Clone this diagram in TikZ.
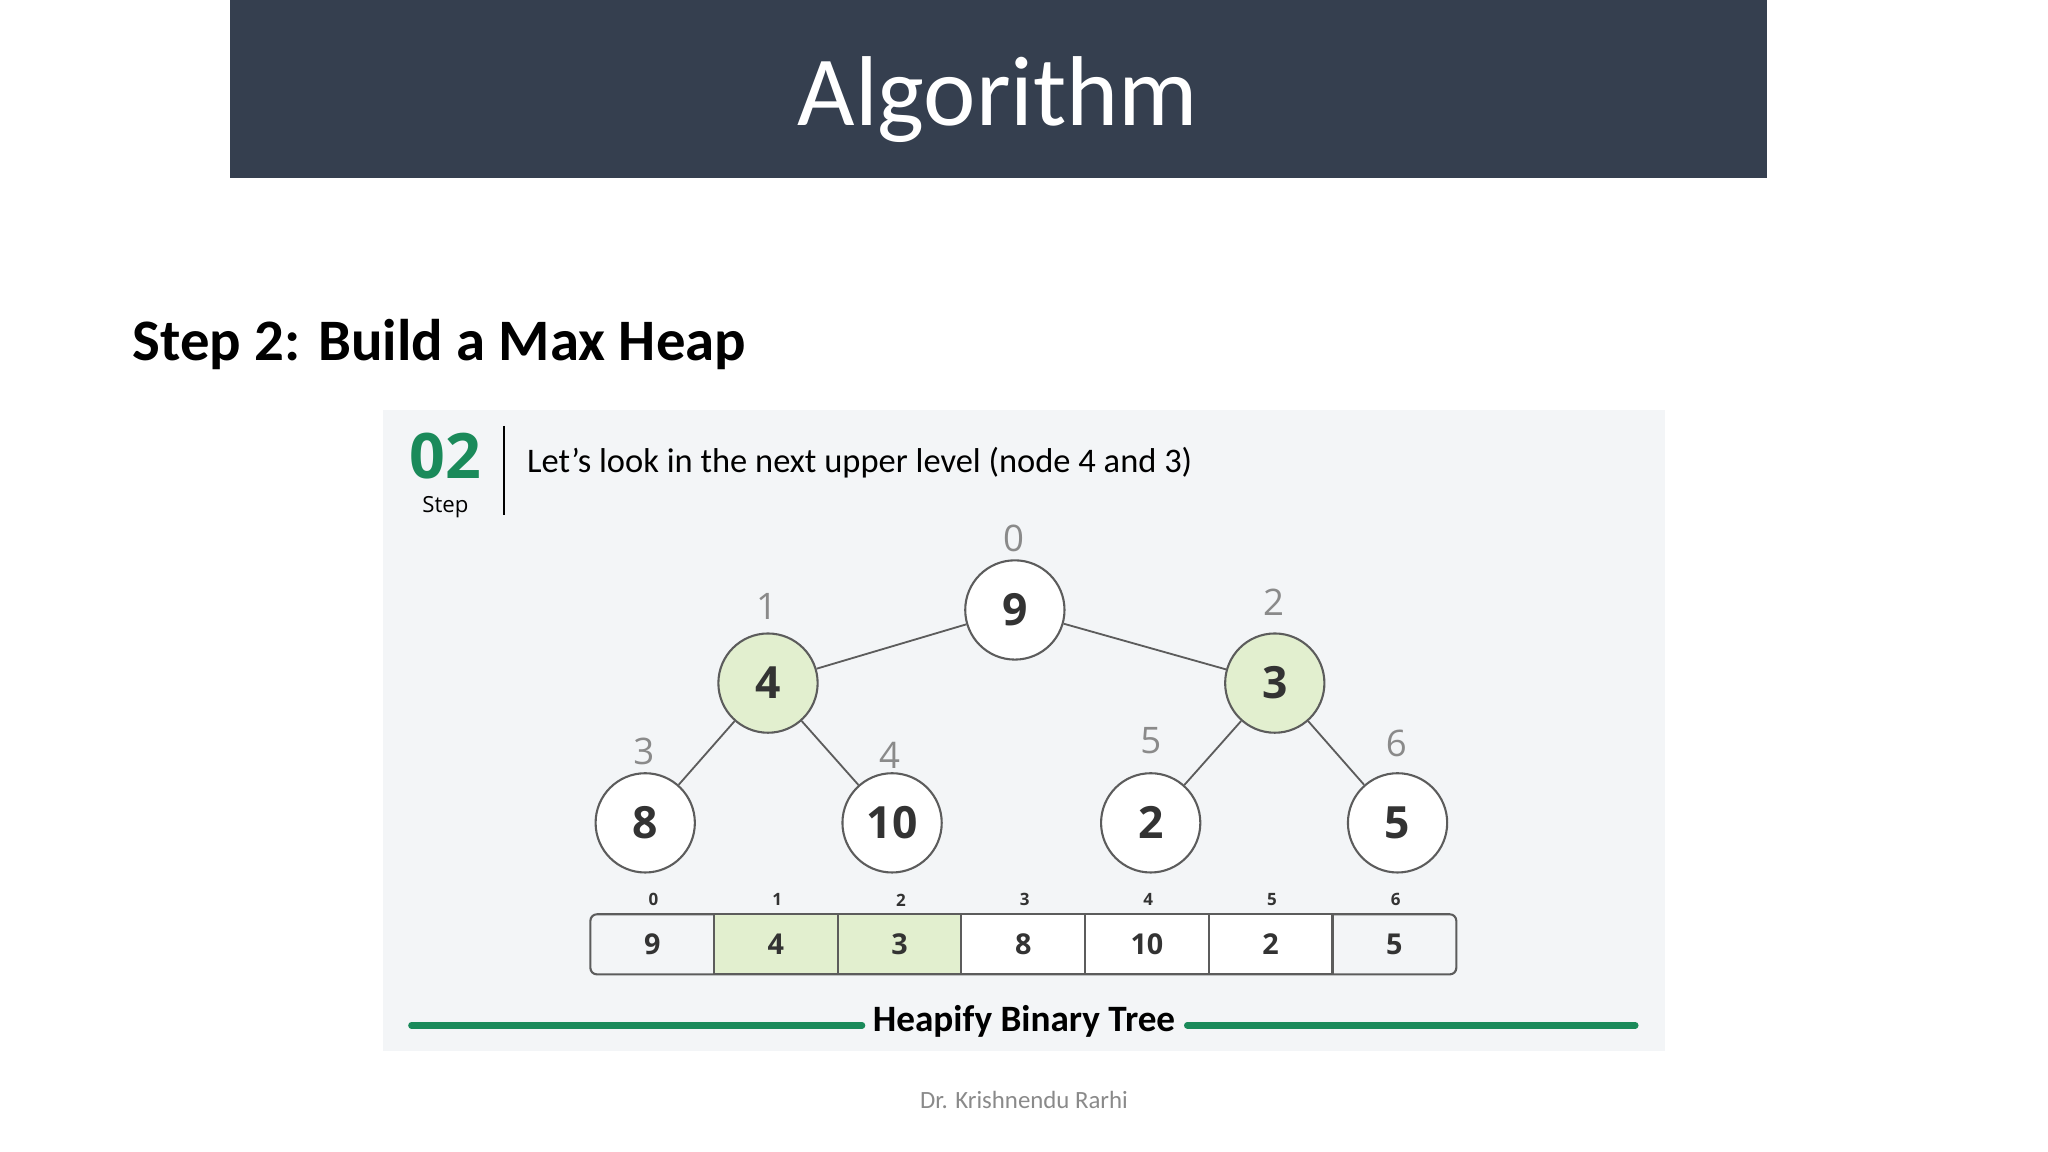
\documentclass[tikz,border=0pt]{standalone}
\usepackage{fontspec}
\setmainfont{Carlito}
\newfontfamily\osans{Open Sans}
\definecolor{bar}{HTML}{353F4F}
\definecolor{panel}{HTML}{F3F5F7}
\definecolor{lg}{HTML}{E2EFCF}
\definecolor{gg}{HTML}{1A8A5A}
\definecolor{dk}{HTML}{333333}
\definecolor{gy}{HTML}{8A8A8A}
\newcommand{\fs}[1]{\fontsize{#1}{#1}\selectfont}
\begin{document}
\begin{tikzpicture}[x=1pt,y=-1pt,
  hn/.style={circle,draw=dk!80,line width=1.6pt,minimum size=76pt,inner sep=0pt,fill=white,font=\osans\bfseries\fs{34}\color{dk}},
  hl/.style={hn,fill=lg},
  ix/.style={font=\osans\fs{28}\color{gy}},
  cell/.style={draw=dk!80,line width=1.6pt,minimum width=94.7pt,minimum height=46pt,inner sep=0pt,font=\osans\bfseries\fs{22}\color{dk}},
  ci/.style={font=\osans\bfseries\fs{13}\color{dk}},
  edge/.style={draw=dk!80,line width=1.4pt}]
\useasboundingbox (0,0) rectangle (1568,882);
\fill[white] (0,0) rectangle (1568,882);
\fill[bar] (176,0) rectangle (1353,136);
\node[text=white,font=\fs{76}] (title) at (764,76) {Algorithm};
\node[anchor=west,font=\bfseries\fs{45}] (step) at (98,264) {Step 2: Build a Max Heap};
\fill[panel] (293,314) rectangle (1275,805);
\node[font=\osans\bfseries\fs{48}\color{gg}] (n02) at (341,349) {02};
\node[font=\osans\fs{17}] (st) at (341,388) {Step};
\draw[line width=1.5pt] (386,326) -- (386,394);
\node[anchor=west,font=\fs{26.4}] (hdr) at (400,354) {Let\char39 s look in the next upper level (node 4 and 3)};
\node[hn] (a) at (777,467) {9};
\node[hl] (b) at (588,523) {4};
\node[hl] (c) at (976,523) {3};
\node[hn] (d) at (494,630) {8};
\node[hn] (e) at (683,630) {10};
\node[hn] (f) at (881,630) {2};
\node[hn] (g) at (1070,630) {5};
\draw[edge] (a)--(b); \draw[edge] (a)--(c);
\draw[edge] (b)--(d); \draw[edge] (b)--(e);
\draw[edge] (c)--(f); \draw[edge] (c)--(g);
\node[ix] (i0) at (776,412) {0};
\node[ix] (i1) at (587,464) {1};
\node[ix] (i2) at (975,461) {2};
\node[ix] (i3) at (493,575) {3};
\node[ix] (i4) at (681,578) {4};
\node[ix] (i5) at (881,567) {5};
\node[ix] (i6) at (1069,569) {6};
\draw[dk!80,line width=1.6pt,rounded corners=5pt] (452,700) rectangle (1115,746);
\foreach \v/\k [count=\i from 0] in {9/white,4/lg,3/lg,8/white,10/white,2/white,5/white}{
  \pgfmathsetmacro\cx{452+94.7*\i+47.35}
  \ifnum\i=0 \node[cell,draw=none] (c\i) at (\cx,723) {\v};
  \else\ifnum\i=6 \node[cell,draw=none] (c\i) at (\cx,723) {\v};
  \else \node[cell,fill=\k] (c\i) at (\cx,723) {\v};\fi\fi
  \node[ci] (k\i) at (\cx+1,689) {\i};
}
\draw[gg,line width=5pt,line cap=round] (315,785) -- (660,785);
\draw[gg,line width=5pt,line cap=round] (909,785) -- (1252,785);
\node[font=\bfseries\fs{28.5}] (hb) at (784,782) {Heapify Binary Tree};
\node[font=\fs{19}] (ft) at (784,842) {\color{gy}Dr. Krishnendu Rarhi};
\end{tikzpicture}
\end{document}
